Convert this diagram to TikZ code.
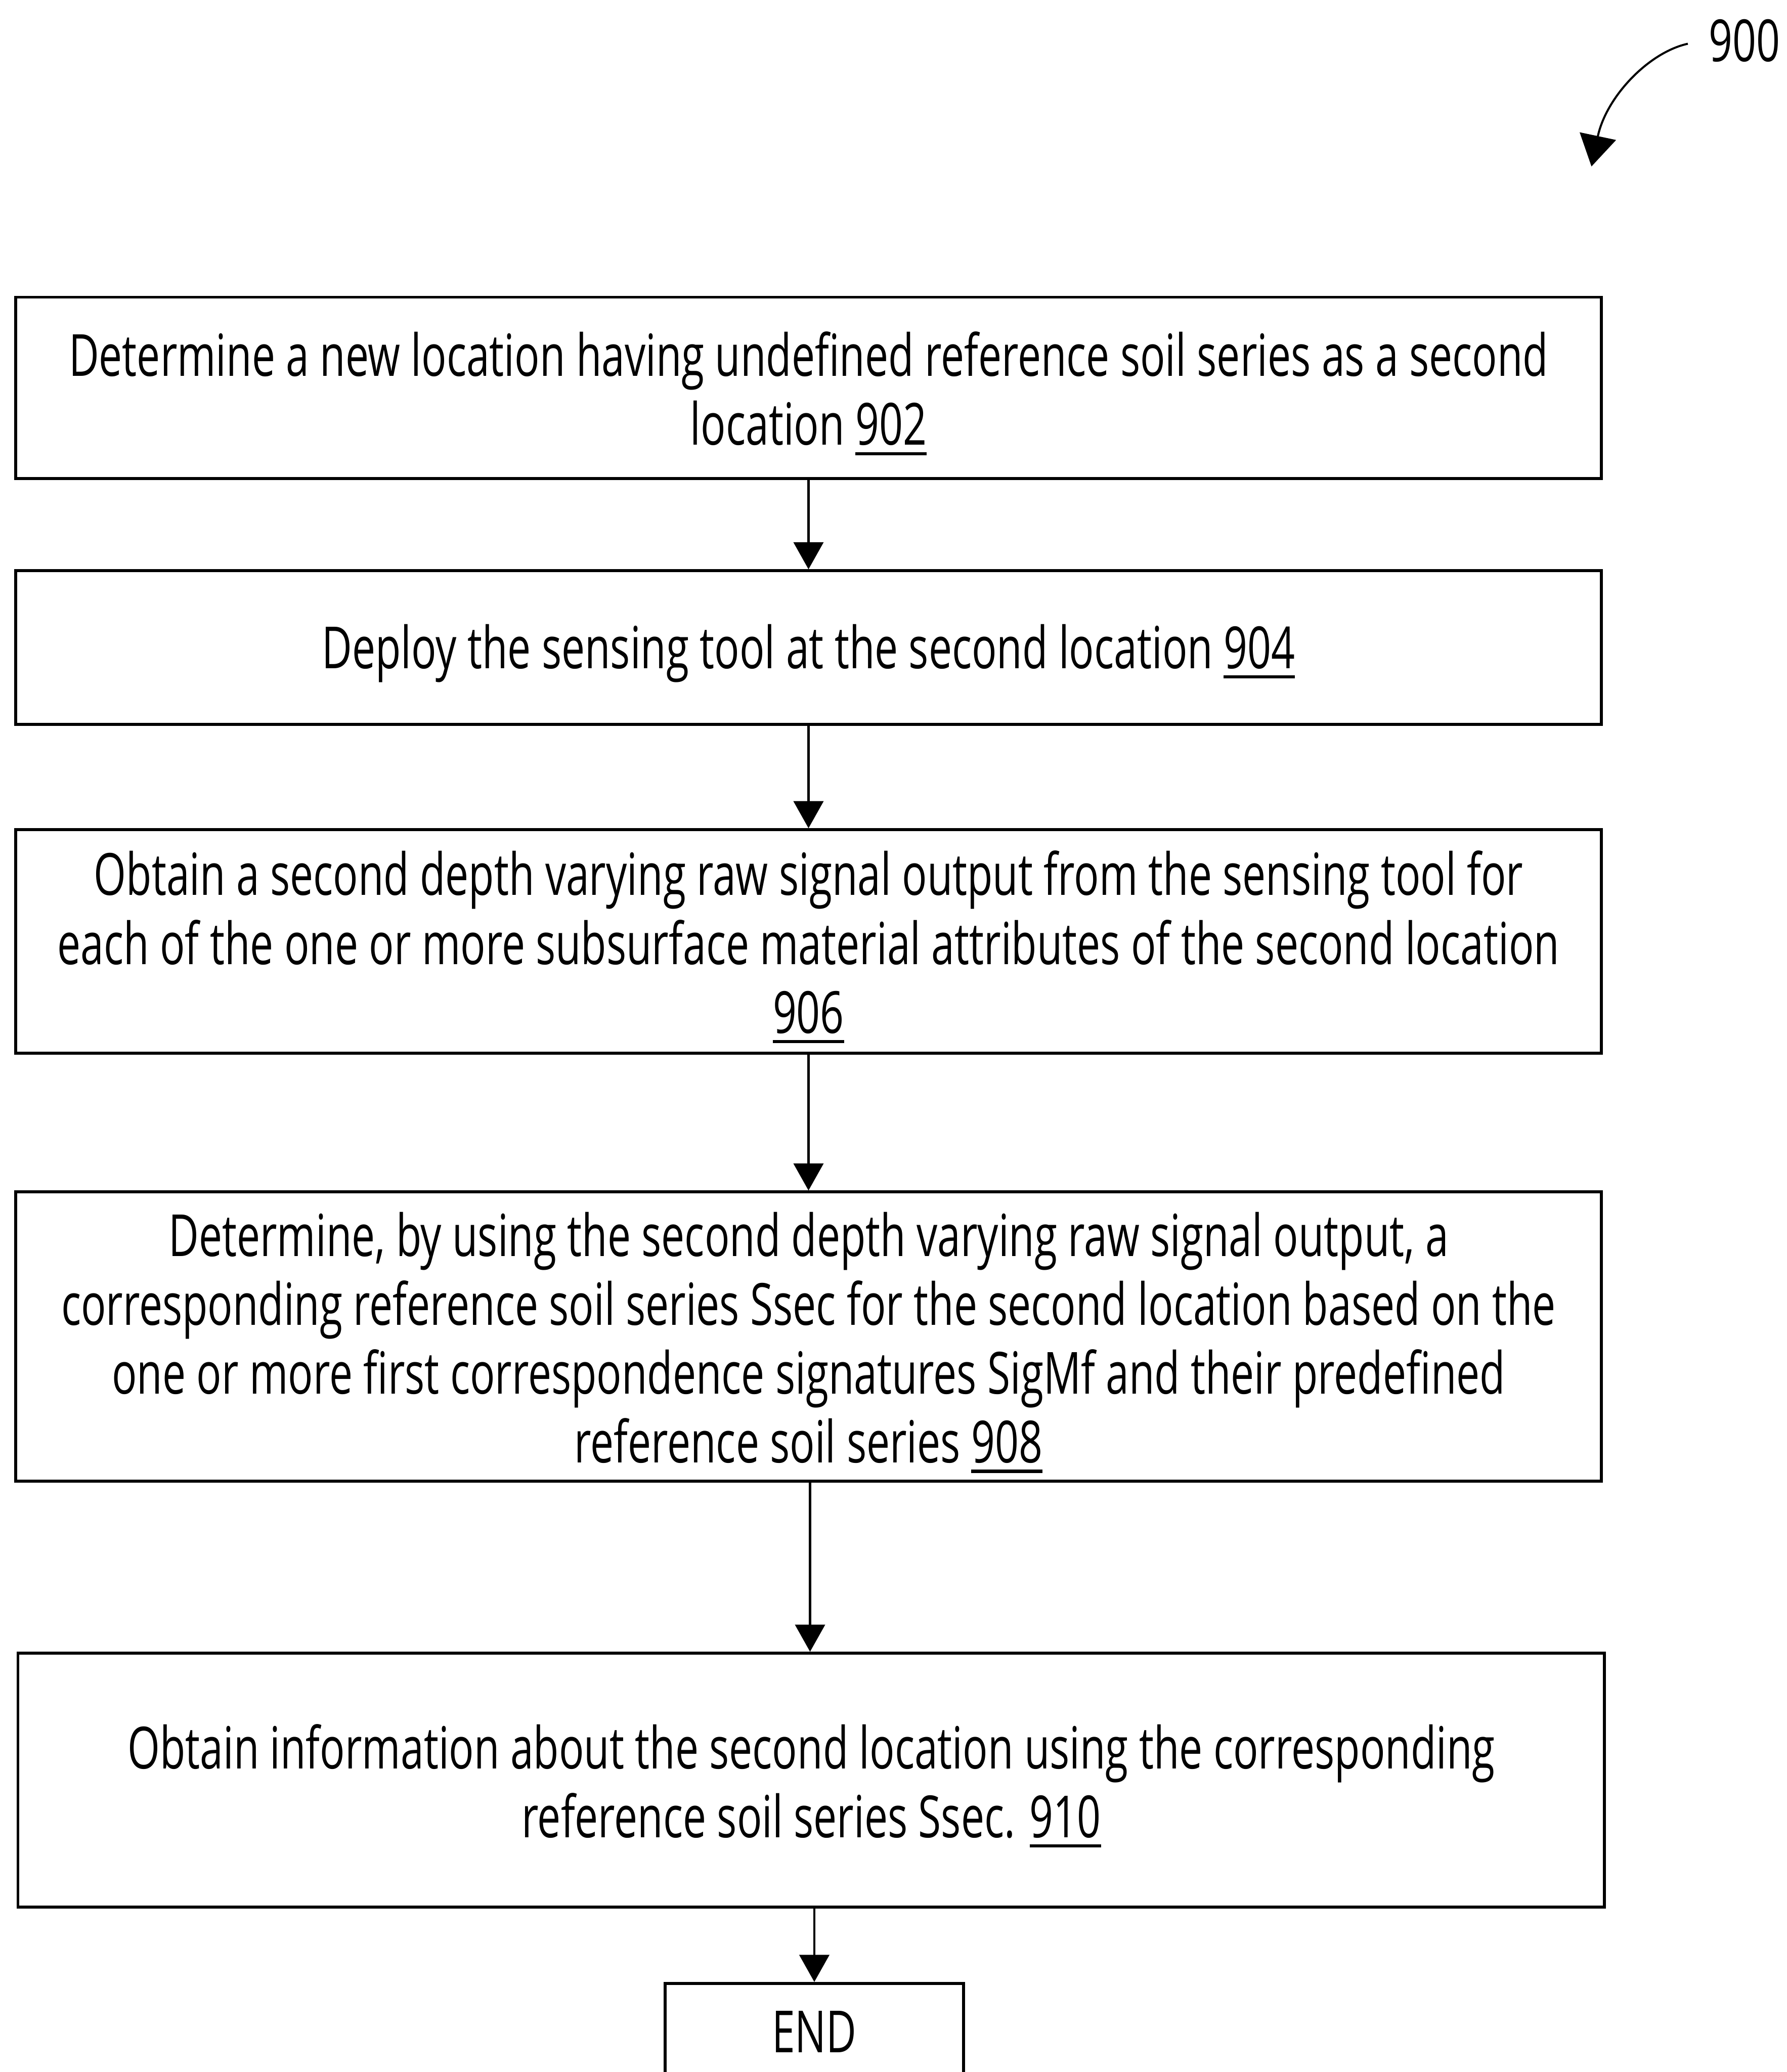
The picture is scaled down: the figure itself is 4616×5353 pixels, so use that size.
\documentclass[tikz,border=0pt]{standalone}
\usepackage{fontspec}
\setmainfont{Open Sans}[FakeStretch=0.715]
\usetikzlibrary{arrows.meta}
% reference numeral with a heavy underline
\newcommand\uln[1]{\leavevmode\setbox0\hbox{#1}\rlap{\rule[-0.26cm]{\wd0}{0.08cm}}\box0}
\begin{document}
\begin{tikzpicture}[x=0.01cm, y=-0.01cm,
  font=\fontsize{42.7pt}{50.6pt}\selectfont,
  frame/.style={draw, line width=2.1pt, rectangle, inner sep=0pt},
  stepbox/.style={frame, minimum width=40.95cm, text width=40cm, align=flush center,
    execute at begin node={\rule{0pt}{1.44cm}}},
  flow/.style={line width=1.7pt, -{Triangle[width=0.77cm,length=0.70cm]}},
  callout/.style={line width=1.5pt, -{Triangle[width=0.95cm,length=0.80cm]}}]
\useasboundingbox (0,0) rectangle (4616,5353);
\clip (0,0) rectangle (4616,5353);

% process steps
\node[stepbox, minimum height=4.68cm] (b1) at (2089,1002)
  {Determine a new location having undefined reference soil series as a second\\ location \uln{902}};
\node[stepbox, minimum height=3.97cm] (b2) at (2089,1673)
  {Deploy the sensing tool at the second location \uln{904}};
\node[stepbox, minimum height=5.77cm] (b3) at (2089,2432)
  {Obtain a second depth varying raw signal output from the sensing tool for\\
   each of the one or more subsurface material attributes of the second location\\ \uln{906}};
\node[stepbox, minimum height=7.47cm] (b4) at (2089,3453)
  {Determine, by using the second depth varying raw signal output, a\\
   corresponding reference soil series Ssec for the second location based on the\\
   one or more first correspondence signatures SigMf and their predefined\\
   reference soil series \uln{908}};
\node[stepbox, minimum width=40.97cm, minimum height=6.56cm] (b5) at (2096,4599)
  {Obtain information about the second location using the corresponding\\
   reference soil series Ssec. \uln{910}};
\node[frame, minimum width=7.7cm, minimum height=2.5cm] (end) at (2104,5249) {END};

% connectors
\draw[flow] (b1.south) -- (b2.north);
\draw[flow] (b2.south) -- (b3.north);
\draw[flow] (b3.south) -- (b4.north);
\draw[flow] ([xshift=0.04cm]b4.south) -- ([xshift=0.04cm]b4.south |- b5.north);
\draw[flow] (b5.south -| end.north) -- (end.north);

% figure number with its pointer
\node[inner sep=0pt, anchor=west] (fig) at (4415,105) {900};
\coordinate (figtip) at (4112,430);
\draw[callout] ([xshift=-0.54cm,yshift=-0.08cm]fig.west)
  .. controls (4260,135) and (4150,250) .. (figtip);
\end{tikzpicture}
\end{document}
